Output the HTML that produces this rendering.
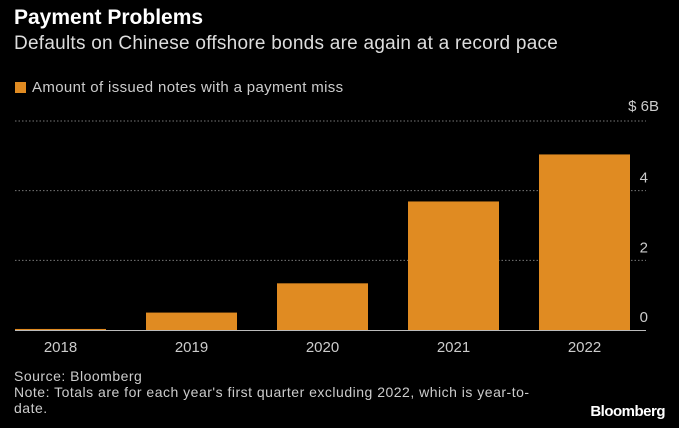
<!DOCTYPE html>
<html><head><meta charset="utf-8"><style>
body{margin:0;background:#000;width:679px;height:428px;overflow:hidden;font-family:"Liberation Sans",sans-serif;color:#fff;position:relative}
.t{position:absolute;white-space:nowrap}
</style></head><body>
<div class="t" style="left:14px;top:6px;font-size:21px;font-weight:bold">Payment Problems</div>
<div class="t" style="left:14px;top:33px;font-size:19px;color:#ddd;letter-spacing:0.25px">Defaults on Chinese offshore bonds are again at a record pace</div>
<div class="t" style="left:15px;top:79px;font-size:15px;color:#ccc;letter-spacing:0.35px"><span style="display:inline-block;width:11px;height:11px;background:#e08b22;margin-right:6px;vertical-align:-1px"></span>Amount of issued notes with a payment miss</div>
<svg id="c" width="679" height="428" style="position:absolute;left:0;top:0"></svg>
<div class="t" style="left:14px;top:368px;font-size:14px;color:#ccc;line-height:16px;letter-spacing:0.5px">Source: Bloomberg<br>Note: Totals are for each year's first quarter excluding 2022, which is year-to-<br>date.</div>
<div class="t" style="right:14px;top:403px;font-size:15px;font-weight:bold;letter-spacing:-0.5px">Bloomberg</div>
<script>
const categories=["2018","2019","2020","2021","2022"];
const values=[0.03,0.5,1.34,3.69,5.04];
const ticks=[0,2,4,6];
const tickLabels=["0","2","4","$ 6B"];
const svg=document.getElementById('c');
const NS="http://www.w3.org/2000/svg";
const y0=330,y6=121,xl=15,xr=646;
const y=v=>y0-(y0-y6)*v/6;
const band=131;
const x=i=>xl+i*band;
const bw=91;
function mk(t,a){const e=document.createElementNS(NS,t);for(const k in a)e.setAttribute(k,a[k]);svg.appendChild(e);return e;}
ticks.forEach((t,i)=>{
 if(t>0){const g=mk('line',{x1:xl,x2:xr,y1:y(t),y2:y(t),stroke:'#777','stroke-dasharray':'1.5,2','stroke-width':1});
 
 }
 const l=mk('text',{x:648,y:y(t)-8,'text-anchor':'end','font-size':15,fill:'#ccc','font-family':'Liberation Sans, sans-serif'});
 l.textContent=tickLabels[i];
 if(t==6){l.setAttribute('y',y(t)-10);l.setAttribute('x',659);}
 
 
});
categories.forEach((c,i)=>{
 const r=mk('rect',{x:x(i),y:y(values[i]),width:bw,height:y0-y(values[i]),fill:'#e08b22'});
 
 
 const l=mk('text',{x:x(i)+bw/2,y:352,'text-anchor':'middle','font-size':15,fill:'#ccc','font-family':'Liberation Sans, sans-serif'});
 l.textContent=c;
 
 
});
const ax=mk('line',{x1:xl,x2:xr,y1:y0+0.5,y2:y0+0.5,stroke:'#bbb','stroke-width':1});


</script>
</body></html>
